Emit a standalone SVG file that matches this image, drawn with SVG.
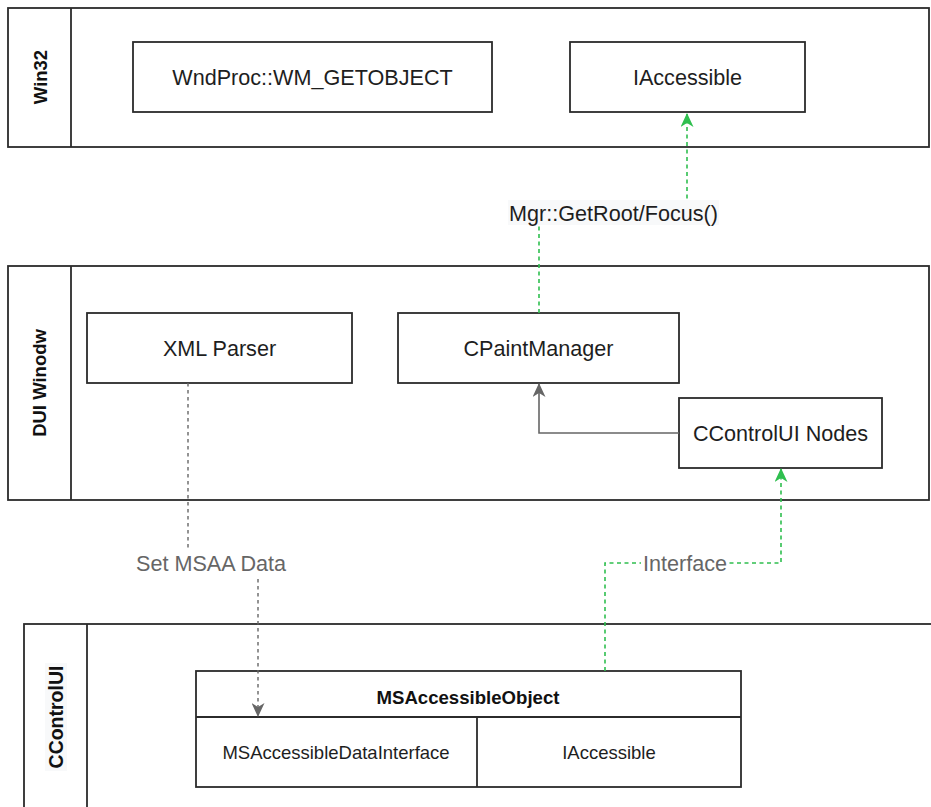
<svg xmlns="http://www.w3.org/2000/svg" width="931" height="807" viewBox="0 0 931 807">
<style>
  .lane{fill:none;stroke:#2b2b2b;stroke-width:1.8}
  .node{fill:#ffffff;stroke:#2b2b2b;stroke-width:1.8}
  .t{font-family:"Liberation Sans",Arial,sans-serif;font-size:21.6px;fill:#1e1e1e;text-anchor:middle;dominant-baseline:central}
  .cell{font-family:"Liberation Sans",Arial,sans-serif;font-size:18.5px;fill:#1e1e1e;text-anchor:middle;dominant-baseline:central}
  .hdr{font-family:"Liberation Sans",Arial,sans-serif;font-size:18.6px;font-weight:bold;fill:#111;text-anchor:middle;dominant-baseline:central}
  .lt{font-family:"Liberation Sans",Arial,sans-serif;font-size:18.5px;font-weight:bold;fill:#111;text-anchor:middle;dominant-baseline:central}
  .lbl{font-family:"Liberation Sans",Arial,sans-serif;font-size:21.6px;fill:#666;text-anchor:middle;dominant-baseline:central}
  .lbld{font-family:"Liberation Sans",Arial,sans-serif;font-size:21.6px;fill:#1e1e1e;text-anchor:middle;dominant-baseline:central}
  .eg{fill:none;stroke:#2fbf4f;stroke-width:1.6;stroke-dasharray:4 3.5}
  .ed{fill:none;stroke:#666;stroke-width:1.4;stroke-dasharray:3.5 3.5}
  .es{fill:none;stroke:#666;stroke-width:1.6}
</style>
<defs>
  <marker id="mg" viewBox="0 0 14 13" refX="13" refY="6.5" markerWidth="14" markerHeight="13" orient="auto" markerUnits="userSpaceOnUse">
    <path d="M0,0 L14,6.5 L0,13 L4,6.5 z" fill="#2fbf4f"/>
  </marker>
  <marker id="mk" viewBox="0 0 14 13" refX="13" refY="6.5" markerWidth="14" markerHeight="13" orient="auto" markerUnits="userSpaceOnUse">
    <path d="M0,0 L14,6.5 L0,13 L4,6.5 z" fill="#666"/>
  </marker>
</defs>
<rect width="931" height="807" fill="#ffffff"/>

<g id="lane-win32">
  <rect class="lane" x="8" y="8" width="921" height="139"/>
  <line class="lane" x1="71" y1="8" x2="71" y2="147"/>
  <text class="lt" transform="translate(40,77) rotate(-90)">Win32</text>
</g>
<g id="lane-dui">
  <rect class="lane" x="8" y="266" width="921" height="234"/>
  <line class="lane" x1="71" y1="266" x2="71" y2="500"/>
  <text class="lt" transform="translate(39,383) rotate(-90)">DUI Winodw</text>
</g>
<g id="lane-ccontrolui">
  <rect class="lane" x="24" y="624" width="920" height="200"/>
  <line class="lane" x1="87" y1="624" x2="87" y2="807"/>
  <rect x="45" y="663" width="22" height="108" fill="#f8f9fa"/>
  <text class="lt" transform="translate(56,717) rotate(-90)" style="font-size:19.5px">CControlUI</text>
</g>

<g id="node-wndproc">
  <rect class="node" x="133" y="42" width="359" height="70"/>
  <text class="t" x="312.5" y="77">WndProc::WM_GETOBJECT</text>
</g>
<g id="node-iaccessible-win32">
  <rect class="node" x="570" y="42" width="235" height="70"/>
  <text class="t" x="687.5" y="77">IAccessible</text>
</g>
<g id="node-xmlparser">
  <rect class="node" x="87" y="313" width="265" height="70"/>
  <text class="t" x="219.5" y="348">XML Parser</text>
</g>
<g id="node-cpaintmanager">
  <rect class="node" x="398" y="313" width="281" height="70"/>
  <text class="t" x="538.5" y="348">CPaintManager</text>
</g>
<g id="node-ccontrolui-nodes">
  <rect class="node" x="679" y="398" width="203" height="70"/>
  <text class="t" x="780.5" y="433">CControlUI Nodes</text>
</g>
<g id="node-msaccessibleobject">
  <rect class="node" x="196" y="671" width="545" height="116"/>
  <line class="lane" x1="196" y1="717" x2="741" y2="717"/>
  <line class="lane" x1="477" y1="717" x2="477" y2="787"/>
  <text class="hdr" x="468" y="697">MSAccessibleObject</text>
  <text class="cell" x="336" y="752">MSAccessibleDataInterface</text>
  <text class="cell" x="609" y="752">IAccessible</text>
</g>

<g id="connectors">
  <path class="eg" d="M539,313 L539,213 L687,213 L687,114" marker-end="url(#mg)"/>
  <rect x="508" y="200" width="211" height="25" fill="#f8f9fa"/>
  <text class="lbld" x="613.5" y="213">Mgr::GetRoot/Focus()</text>

  <path class="es" d="M679,433 L539,433 L539,384" marker-end="url(#mk)"/>

  <path class="ed" d="M188,383 L188,563 L258,563 L258,716" marker-end="url(#mk)"/>
  <rect x="133" y="549" width="157" height="28" fill="#ffffff"/>
  <text class="lbl" x="211" y="563">Set MSAA Data</text>

  <path class="eg" d="M605,671 L605,563 L781,563 L781,469" marker-end="url(#mg)"/>
  <rect x="641" y="549" width="88" height="28" fill="#ffffff"/>
  <text class="lbl" x="685" y="563">Interface</text>
</g>
</svg>
